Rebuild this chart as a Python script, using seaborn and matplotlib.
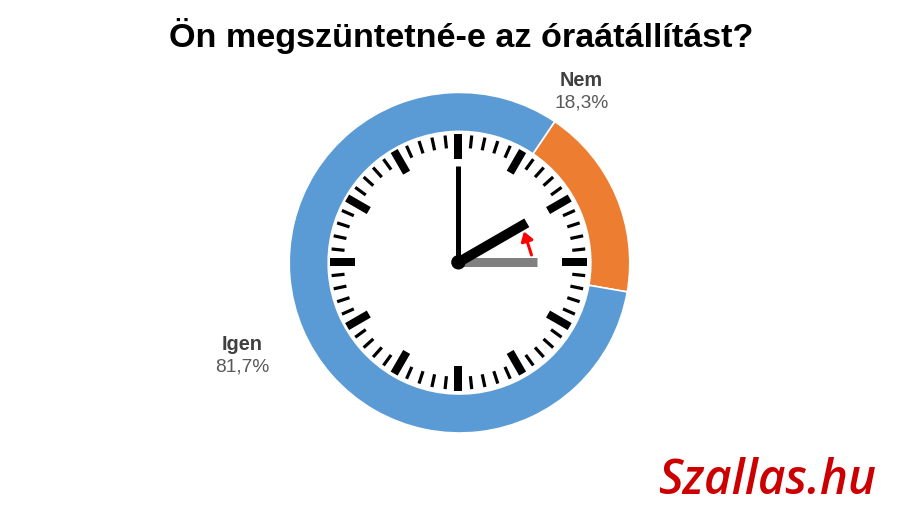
import numpy as np
import matplotlib
matplotlib.use("Agg")
import matplotlib.pyplot as plt
import seaborn as sns

title = "Ön megszüntetné-e az óraátállítást?"
answers = ["Nem", "Igen"]
shares = [18.3, 81.7]
share_labels = ["18,3%", "81,7%"]
colors = ["#ED7D31", "#5B9BD5"]

sns.set_theme(style="white")
plt.rcParams["font.family"] = ["Liberation Sans", "DejaVu Sans"]

W, H = 920, 517
px = 0.72  # one pixel in points at dpi 100
cx, cy = 458.4, H - 262.3

fig = plt.figure(figsize=(W / 100, H / 100), dpi=100)
ax = fig.add_axes([0, 0, 1, 1])

# ring sits a little off the clock centre, Nem starts 34 degrees past twelve
ax.pie(shares, colors=colors, center=(459.5, H - 262.7), radius=170.3,
       startangle=90 - 34, counterclock=False,
       wedgeprops=dict(width=39, edgecolor="white", linewidth=1.2))
ax.set_xlim(0, W)
ax.set_ylim(0, H)
ax.set_aspect("equal")
ax.axis("off")


def radial(deg, r0, r1, width, color="black"):
    a = np.radians(deg)
    ax.plot([cx + r0 * np.sin(a), cx + r1 * np.sin(a)],
            [cy + r0 * np.cos(a), cy + r1 * np.cos(a)],
            color=color, lw=width * px, solid_capstyle="butt", zorder=3)


# clock face
for minute in range(60):
    if minute % 5 == 0:
        radial(minute * 6, 103.5, 128.5, 8)
    else:
        radial(minute * 6, 114.5, 127.5, 3.2)

# old hour hand, then the new hands
radial(90, 0, 79, 9, color="#808080")
radial(0, 0, 96, 5)
radial(60, 0, 79, 10)
ax.add_patch(plt.Circle((cx, cy), 6.5, color="black", zorder=4))

ax.annotate("", xy=(524, H - 231.5), xytext=(531.5, H - 255),
            arrowprops=dict(arrowstyle="-|>,head_width=0.3,head_length=0.45",
                            color="#FF0000", lw=2.2, shrinkA=0, shrinkB=0),
            zorder=5)

ax.text(W / 2 + 1, H - 36, title, ha="center", va="center",
        fontsize=24.6, fontweight="bold", color="black")

label_color = "#595959"
ax.text(581.5, H - 80.5, answers[0], ha="center", va="center", fontsize=14.3,
        fontweight="bold", color="#404040")
ax.text(581.5, H - 102.5, share_labels[0], ha="center", va="center", fontsize=13.8,
        color=label_color)
ax.text(242.5, H - 344.5, answers[1], ha="center", va="center", fontsize=14.3,
        fontweight="bold", color="#404040")
ax.text(242.5, H - 366.5, share_labels[1], ha="center", va="center", fontsize=13.8,
        color=label_color)

# logo
ax.text(767.5, H - 481, "Szallas.hu", ha="center", va="center", fontsize=34.3,
        family="Open Sans", style="italic", fontweight="semibold",
        color="#CC0000")

fig.savefig("out.png", dpi=100, facecolor="white")
